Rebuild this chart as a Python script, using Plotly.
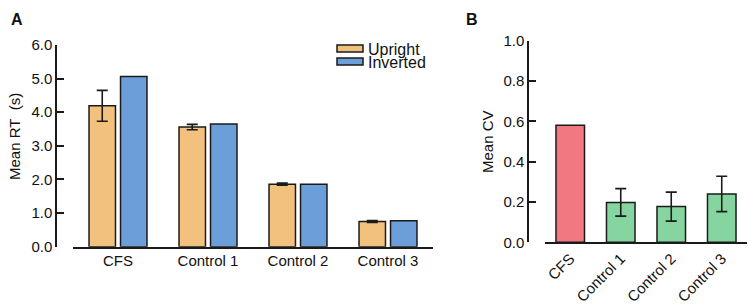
import plotly.graph_objects as go

# ---- data ----
groups = ["CFS", "Control 1", "Control 2", "Control 3"]
rt_upright = [4.19, 3.56, 1.86, 0.75]
rt_upright_err = [0.46, 0.08, 0.03, 0.03]
rt_inverted = [5.06, 3.65, 1.86, 0.77]

cv_cfs_group = ["CFS"]
cv_cfs = [0.58]
cv_control_groups = ["Control 1", "Control 2", "Control 3"]
cv_control = [0.198, 0.177, 0.240]
cv_control_err = [0.068, 0.072, 0.088]

rt_ticks = [0, 1, 2, 3, 4, 5, 6]
cv_ticks = [0.0, 0.2, 0.4, 0.6, 0.8, 1.0]

# ---- style ----
W, H = 750, 305
FONT = "Liberation Sans, Arial, Helvetica, sans-serif"
C_UP = "#F3C17E"
C_INV = "#6C9FDA"
C_CFS = "#F17880"
C_CTL = "#86D5A1"
EDGE = "#1a1a1a"
LW = 1.5


def px_x(x):
    return x / W


def px_y(y):
    return 1 - y / H


fig = go.Figure()

bar_line = dict(color=EDGE, width=LW)
err_style = dict(type="data", color=EDGE, thickness=1.6, width=5.5, visible=True)

fig.add_trace(go.Bar(
    x=groups, y=rt_upright, name="Upright", xaxis="x", yaxis="y",
    marker=dict(color=C_UP, line=bar_line), width=0.294, offset=-0.322,
    error_y=dict(array=rt_upright_err, **err_style), showlegend=False,
))
fig.add_trace(go.Bar(
    x=groups, y=rt_inverted, name="Inverted", xaxis="x", yaxis="y",
    marker=dict(color=C_INV, line=bar_line), width=0.294, offset=0.028,
    showlegend=False,
))
fig.add_trace(go.Bar(
    x=cv_cfs_group, y=cv_cfs, name="CFS", xaxis="x2", yaxis="y2",
    marker=dict(color=C_CFS, line=bar_line), width=0.565, offset=-0.2825,
    showlegend=False,
))
fig.add_trace(go.Bar(
    x=cv_control_groups, y=cv_control, name="Controls", xaxis="x2", yaxis="y2",
    marker=dict(color=C_CTL, line=bar_line), width=0.565, offset=-0.2825,
    error_y=dict(array=cv_control_err, **err_style), showlegend=False,
))

tickfont = dict(family=FONT, size=15, color="#111")
catfont = dict(family=FONT, size=15, color="#111")

common_y = dict(showline=True, linewidth=LW, linecolor=EDGE, ticks="inside",
                ticklen=7, tickwidth=LW, tickcolor=EDGE, showgrid=False,
                zeroline=False, tickfont=tickfont, automargin=False,
                anchor="free", tickformat=".1f")
common_x = dict(showline=True, linewidth=LW, linecolor=EDGE, ticks="",
                showgrid=False, zeroline=False, tickfont=catfont,
                automargin=False, type="category", range=[-0.5, 3.5],
                categoryorder="array", categoryarray=groups)

fig.update_layout(
    width=W, height=H,
    margin=dict(l=0, r=0, t=0, b=0),
    paper_bgcolor="white", plot_bgcolor="white",
    barmode="overlay",
    font=dict(family=FONT, color="#111"),
    xaxis=dict(domain=[px_x(73), px_x(433)], anchor="y", **common_x),
    yaxis=dict(domain=[px_y(246.7), px_y(45)], range=[0, 6],
               tickvals=rt_ticks, position=px_x(56), **common_y),
    xaxis2=dict(domain=[px_x(545), px_x(747)], anchor="y2", tickangle=-45,
                **common_x),
    yaxis2=dict(domain=[px_y(242.3), px_y(40.7)], range=[0, 1],
                tickvals=cv_ticks, position=px_x(528), **common_y),
)

# legend (custom, wide swatches like the reference)
legend_items = [("Upright", C_UP, 45, 52), ("Inverted", C_INV, 58, 65)]
for label, col, y0, y1 in legend_items:
    fig.add_shape(type="rect", xref="paper", yref="paper",
                  x0=px_x(337), x1=px_x(363), y0=px_y(y1), y1=px_y(y0),
                  fillcolor=col, line=dict(color=EDGE, width=LW))
    fig.add_annotation(text=label, xref="paper", yref="paper",
                       x=px_x(366), y=px_y((y0 + y1) / 2 + 0.5),
                       xanchor="left", yanchor="middle", showarrow=False,
                       font=dict(family=FONT, size=16, color="#111"))

# panel letters
for letter, x in [("A", 17), ("B", 472)]:
    fig.add_annotation(text="<b>%s</b>" % letter, xref="paper", yref="paper",
                       x=px_x(x), y=px_y(20), xanchor="center", yanchor="middle",
                       showarrow=False, font=dict(family=FONT, size=16, color="#111"))

# axis titles
fig.add_annotation(text="Mean RT\u00a0 (s)", xref="paper", yref="paper",
                   x=px_x(14), y=px_y(137), textangle=-90,
                   xanchor="center", yanchor="middle", showarrow=False,
                   font=dict(family=FONT, size=15, color="#111"))
fig.add_annotation(text="Mean CV", xref="paper", yref="paper",
                   x=px_x(487), y=px_y(142), textangle=-90,
                   xanchor="center", yanchor="middle", showarrow=False,
                   font=dict(family=FONT, size=15, color="#111"))

fig.write_html(
    "out.html",
    config={"displayModeBar": False},
    post_script="document.body.style.margin='0px';document.body.style.padding='0px';",
)
